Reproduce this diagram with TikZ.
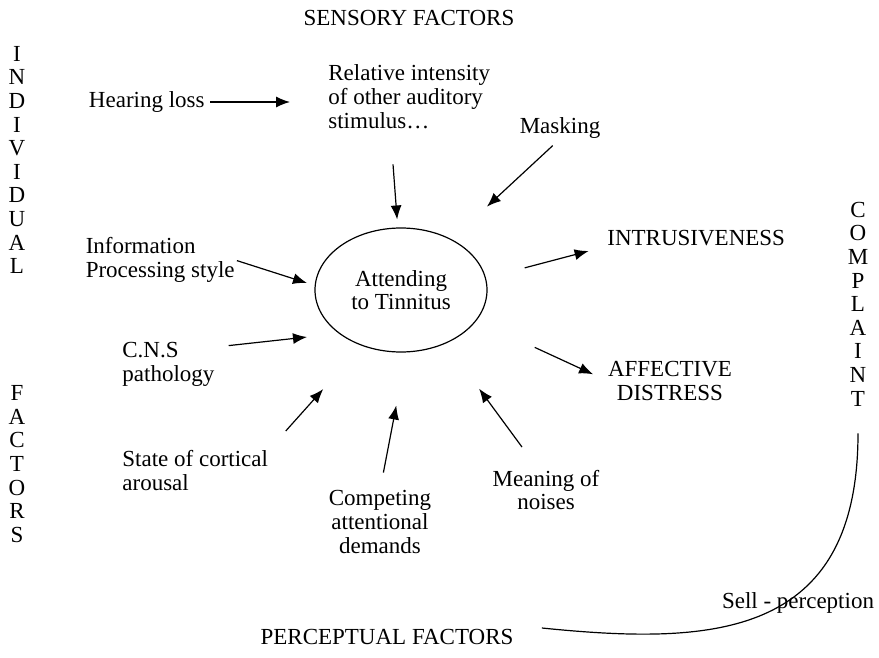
\documentclass[tikz,border=0pt]{standalone}
\usepackage{fontspec}
\setmainfont{Liberation Serif}
\usetikzlibrary{shapes, arrows.meta, positioning, calc}

\begin{document}
\begin{tikzpicture}[x=0.5pt, y=-0.5pt,
    lbl/.style={inner sep=0pt, font=\fontsize{11.5}{12}\selectfont, align=left},
    stack/.style={inner sep=0pt, font=\fontsize{11.5}{11.8}\selectfont, align=center},
    arr/.style={-{Latex[length=7pt, width=5.5pt]}, line width=0.6pt}]
    \useasboundingbox (0,0) rectangle (879,658);

    % Centre
    \node[ellipse, draw, line width=0.6pt, minimum width=86pt, minimum height=62pt, stack] (att) at (401,290) {Attending\\to Tinnitus};

    % Headings
    \node[lbl] (sens) at (409,18) {SENSORY FACTORS};
    \node[lbl] (perc) at (387,637) {PERCEPTUAL FACTORS};
    \node[stack] (indiv) at (17,160) {I\\N\\D\\I\\V\\I\\D\\U\\A\\L};
    \node[stack] (fact) at (17,464) {F\\A\\C\\T\\O\\R\\S};
    \node[stack] (compl) at (858,304) {C\\O\\M\\P\\L\\A\\I\\N\\T};

    % Sensory factors
    \node[lbl, anchor=east] (hear) at (205,102) {Hearing loss};
    \node[lbl, anchor=west] (rel) at (328,97) {Relative intensity\\of other auditory\\stimulus\ldots};
    \node[lbl] (mask) at (560,128) {Masking};

    % Outcomes
    \node[lbl, anchor=west] (intr) at (607,238) {INTRUSIVENESS};
    \node[stack] (aff) at (670,381) {AFFECTIVE\\DISTRESS};

    % Individual factors
    \node[lbl, anchor=east] (info) at (235,260) {Information\\Processing style};
    \node[lbl, anchor=west] (cns) at (122,364) {C.N.S\\pathology};
    \node[lbl, anchor=west] (state) at (122,471) {State of cortical\\arousal};

    % Perceptual factors
    \node[stack] (comp) at (380,522) {Competing\\attentional\\demands};
    \node[stack] (mean) at (546,490) {Meaning of\\noises};
    \node[lbl] (sell) at (798,603) {Sell - perception};

    % Arrows
    \draw[arr, shorten <=2.5pt, shorten >=19pt] (hear.east) -- (hear.east -| rel.west);
    \draw[arr, shorten <=17.5pt, shorten >=4pt] (rel.-120) -- (att.93);
    \draw[arr, shorten <=5pt, shorten >=24pt] (mask.south) -- (att.45);
    \draw[arr, shorten <=20pt, shorten >=9.5pt] (att.8) -- (intr.south west);
    \draw[arr, shorten <=32pt, shorten >=8pt] (att.-22) -- (aff.west);
    \draw[arr, shorten <=1pt, shorten >=4pt] (info.east) -- (att.177);
    \draw[arr, shorten <=7pt, shorten >=16pt] (cns.20) -- (att.215);
    \draw[arr, shorten <=13pt, shorten >=29pt] (state.north east) -- (att.235);
    \draw[arr, shorten <=9pt, shorten >=27pt] (comp.north) -- (att.-85);
    \draw[arr, shorten <=14pt, shorten >=28pt] (mean.110) -- (att.-50);

    % Self-perception curve
    \draw[line width=0.6pt] ([xshift=14pt, yshift=4.5pt]perc.east) .. controls (710,645) and (858,640) .. ([yshift=-13.5pt]compl.south);
\end{tikzpicture}
\end{document}
